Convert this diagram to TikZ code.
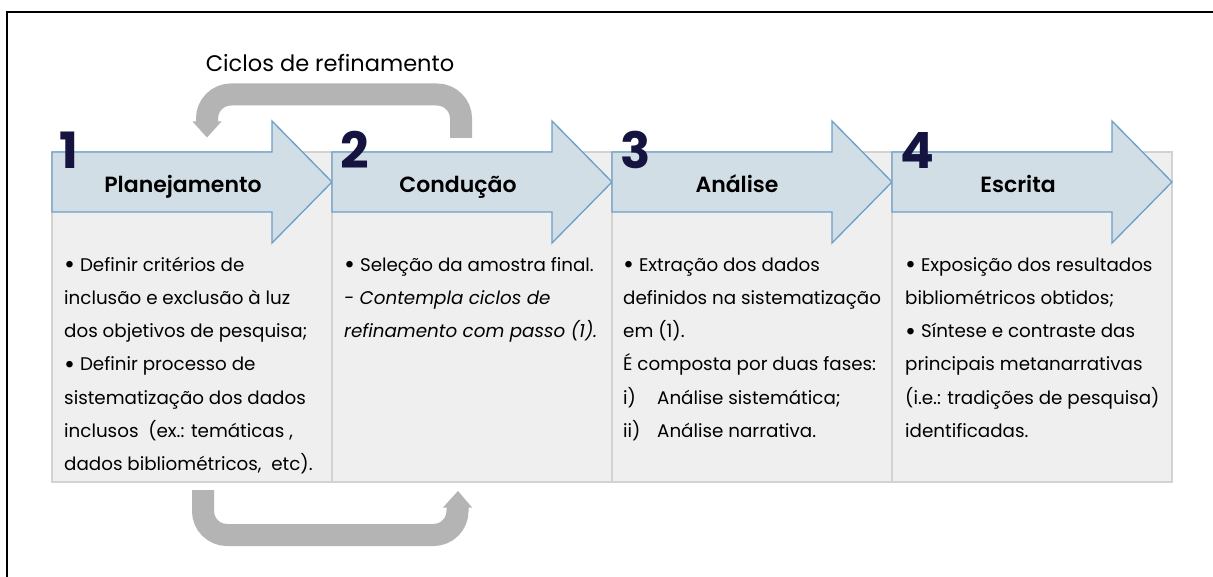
\documentclass[tikz,border=0pt]{standalone}
\usepackage{fontspec}
\setmainfont{Poppins}
\newfontfamily\titlefont{Poppins SemiBold}
\begin{document}
\definecolor{arrowfill}{HTML}{D2DEE6}
\definecolor{arrowline}{HTML}{6A9FC8}
\definecolor{numcol}{HTML}{15133F}
\definecolor{cyclegrey}{HTML}{B4B4B4}
\definecolor{panelfill}{HTML}{EFEFEF}
\definecolor{panelline}{HTML}{D2D2D2}
\newcommand{\bul}{\raisebox{-0.13em}{\scalebox{1.45}{\textbullet}}\ }
\begin{tikzpicture}[x=1pt,y=-1pt,
  stagearrow/.style={fill=arrowfill,draw=arrowline,line width=1.3pt,line join=miter},
  stagenum/.style={anchor=base west,inner sep=0pt,text=numcol,font=\fontsize{50}{50}\selectfont\bfseries},
  stagetitle/.style={anchor=base,inner sep=0pt,font=\fontsize{22}{26}\selectfont\titlefont},
  bodytext/.style={anchor=north west,inner sep=0pt,align=left,font=\fontsize{18.3}{33.2}\selectfont},
  cycle/.style={draw=cyclegrey,line width=22pt,rounded corners=24pt},
  cyclehead/.style={fill=cyclegrey,draw=none}]
\useasboundingbox (0,0) rectangle (1213,577);
\fill[white] (0,0) rectangle (1213,577);
% frame
\draw[line width=2pt] (7,577) -- (7,12) -- (1213,12);
% panel
\draw[fill=panelfill,draw=panelline,line width=1.3pt] (52,152) rectangle (1172,482);
\foreach \c in {332,612,892}{\draw[panelline,line width=1.3pt] (\c,152) -- (\c,482);}
% arrows
\foreach \c in {52,332,612,892}{
  \draw[stagearrow] (\c,152) -- (\c+220,152) -- (\c+220,121) -- (\c+280,182)
     -- (\c+220,243) -- (\c+220,212) -- (\c,212) -- cycle;}
% numbers
\node[stagenum] (n1) at (59,169) {1};
\node[stagenum] (n2) at (340,169) {2};
\node[stagenum] (n3) at (620,169) {3};
\node[stagenum] (n4) at (900,169) {4};
% titles
\node[stagetitle] (t1) at (183,193) {Planejamento};
\node[stagetitle] (t2) at (458,193) {Condução};
\node[stagetitle] (t3) at (737,193) {Análise};
\node[stagetitle] (t4) at (1018,193) {Escrita};
% body texts
\node[bodytext] (b1) at (64,247.8) {\strut\bul Definir critérios de\\
inclusão e exclusão à luz\\
dos objetivos de pesquisa;\\
\bul Definir processo de\\
sistematização dos dados\\
inclusos\ \ (ex.: temáticas ,\\
dados bibliométricos,\ \ etc).};
\node[bodytext] (b2) at (344,247.8) {\strut\bul Seleção da amostra final.\\
\itshape - Contempla ciclos de\\
\itshape refinamento com passo (1).};
\node[bodytext] (b3) at (623,247.8) {\strut\bul Extração dos dados\\
definidos na sistematização\\
em (1).\\
É composta por duas fases:\\
\makebox[34pt][l]{i)}Análise sistemática;\\
\makebox[34pt][l]{ii)}Análise narrativa.};
\node[bodytext] (b4) at (905,247.8) {\strut\bul Exposição dos resultados\\
bibliométricos obtidos;\\
\bul Síntese e contraste das\\
principais metanarrativas\\
(i.e.: tradições de pesquisa)\\
identificadas.};
% cycle label
\node[anchor=base,inner sep=0pt,font=\fontsize{22.5}{26}\selectfont] (lbl) at (330,71.5) {Ciclos de refinamento};
% top cycle arrow
\coordinate (ts) at (461,138);
\coordinate (te) at (207,122);
\draw[cycle] (ts) -- (461,94.5) -- (207,94.5) -- (te);
\fill[cyclehead] (192.5,121.5) -- (221.5,121.5) -- (207,137.5) -- cycle;
% bottom cycle arrow
\coordinate (bs) at (203,490);
\coordinate (be) at (457.5,507);
\draw[cycle] (bs) -- (203,535) -- (457.5,535) -- (be);
\fill[cyclehead] (443,507.5) -- (472,507.5) -- (458,491) -- cycle;
\end{tikzpicture}
\end{document}
